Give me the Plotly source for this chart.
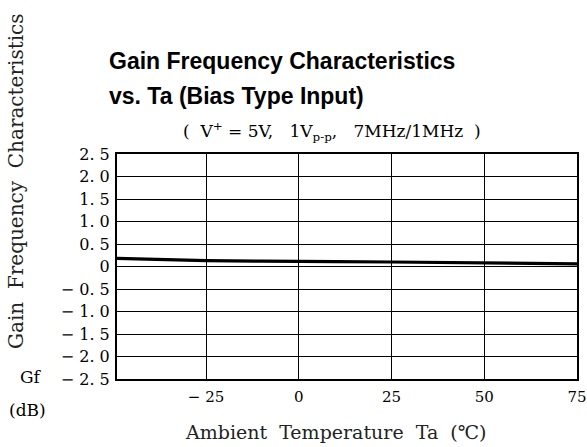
import plotly.graph_objects as go

# Data
temp_c = [-49, -40, -25, -10, 0, 10, 25, 40, 50, 60, 75]
gain_db = [0.18, 0.16, 0.13, 0.12, 0.12, 0.11, 0.10, 0.09, 0.08, 0.07, 0.06]

x_ticks = [-25, 0, 25, 50, 75]
x_ticktext = ["− 25", "0", "25", "50", "75"]
y_ticks = [2.5, 2.0, 1.5, 1.0, 0.5, 0, -0.5, -1.0, -1.5, -2.0, -2.5]
y_ticktext = ["2. 5", "2. 0", "1. 5", "1. 0", "0. 5", "0", "− 0. 5", "− 1. 0", "− 1. 5", "− 2. 0", "− 2. 5"]

W, H = 587, 447
L, R, T, B = 117, 10, 154, 68
pw = W - L - R
ph = H - T - B

def px(x):
    return (x - L) / pw

def py(y):
    return (H - B - y) / ph

serif = "DejaVu Serif, serif"
sans = "Liberation Sans, Arial, sans-serif"

fig = go.Figure()
fig.add_trace(go.Scatter(x=temp_c, y=gain_db, mode="lines",
                         line=dict(color="black", width=3.2), showlegend=False))

fig.update_layout(
    width=W, height=H,
    margin=dict(l=L, r=R, t=T, b=B, autoexpand=False),
    paper_bgcolor="white", plot_bgcolor="white",
    xaxis=dict(range=[-49, 75], tickvals=x_ticks, ticktext=x_ticktext,
               showgrid=True, gridcolor="black", gridwidth=1.3,
               showline=True, linecolor="black", linewidth=2, mirror=True,
               ticks="outside", ticklen=3, tickcolor="rgba(0,0,0,0)",
               tickfont=dict(family=serif, size=15, color="black"),
               zeroline=False, fixedrange=True),
    yaxis=dict(range=[-2.5, 2.5], tickvals=y_ticks, ticktext=y_ticktext,
               showgrid=True, gridcolor="black", gridwidth=1.3,
               showline=True, linecolor="black", linewidth=2, mirror=True,
               ticks="outside", ticklen=2, tickcolor="rgba(0,0,0,0)",
               tickfont=dict(family=serif, size=16, color="black"),
               zeroline=False, fixedrange=True),
)

ann = [
    dict(text="<b>Gain Frequency Characteristics</b>", x=px(107), y=py(61),
         xanchor="left", yanchor="middle", font=dict(family=sans, size=23, color="black")),
    dict(text="<b>vs. Ta (Bias Type Input)</b>", x=px(107), y=py(96),
         xanchor="left", yanchor="middle", font=dict(family=sans, size=23, color="black")),
    dict(text="(  V<sup>+</sup> = 5V,   1V<sub>p-p</sub>,   7MHz/1MHz  )", x=px(332), y=py(131),
         xanchor="center", yanchor="middle", font=dict(family=serif, size=17, color="black")),
    dict(text="Gain  Frequency  Characteristics", x=px(16), y=py(181),
         xanchor="center", yanchor="middle", textangle=-90,
         font=dict(family=serif, size=20, color="#222")),
    dict(text="Gf", x=px(31), y=py(377), xanchor="center", yanchor="middle",
         font=dict(family=serif, size=17, color="black")),
    dict(text="(dB)", x=px(27), y=py(410), xanchor="center", yanchor="middle",
         font=dict(family=serif, size=17, color="black")),
    dict(text="Ambient  Temperature  Ta  (℃)", x=px(335), y=py(432),
         xanchor="center", yanchor="middle", font=dict(family=serif, size=19, color="#222")),
]
for a in ann:
    a.update(xref="paper", yref="paper", showarrow=False)
fig.update_layout(annotations=ann)

fig.write_html("out.html", config={"displayModeBar": False},
               post_script="document.body.style.margin='0';")
